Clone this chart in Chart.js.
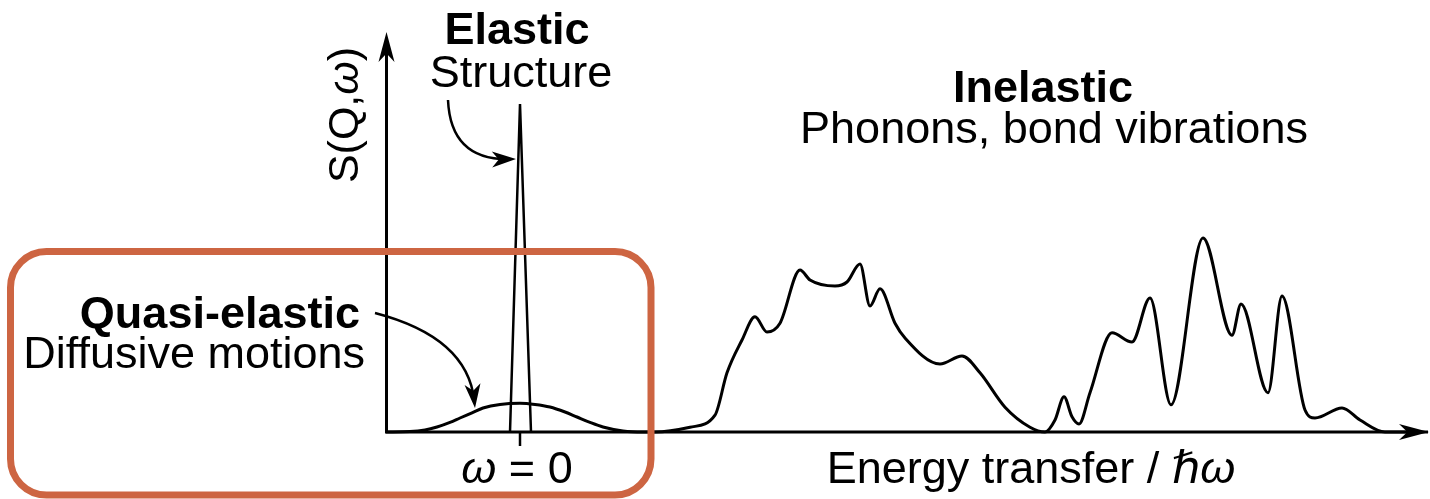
<!DOCTYPE html>
<html>
<head>
<meta charset="utf-8">
<script src="https://cdn.jsdelivr.net/npm/chart.js@4/dist/chart.umd.min.js"></script>
<style>
  html, body { margin: 0; padding: 0; background: #fff; }
</style>
</head>
<body>
<canvas id="sqw" width="1430" height="499"></canvas>
<script>
// energy transfer (arb. units, 0 = elastic line) and S(Q,w) (arb. units)
const quasiX = [-13.4, -11, -9.5, -8.3, -7, -6, -4.8, -3.7, -2, 0, 1.5, 3, 4.5, 5.7, 7, 8.3, 10.3, 12.3];
const quasiY = [0, 0.1, 0.5, 1.25, 2.4, 3.5, 4.8, 6, 6.9, 7.2, 6.9, 6.25, 5, 3.75, 2.4, 1.25, 0.25, 0];

const elasticX = [-1.0, 0, 1.1];
const elasticY = [0, 82, 0];

const inelX = [13.5, 17, 19.5, 20.7, 22.2, 23.5, 24.7, 26, 28, 29, 31.5, 32.7, 34, 35, 36, 37.5, 38.5, 42, 44.2, 46, 48.5, 51, 52.5,
               53.5, 54.4, 55.2, 55.9, 57, 59.2, 61.2, 63, 65.1, 68.3, 71.2, 72.1, 74.8, 76.2, 78.5, 79.5, 82.2, 84, 86.5, 90.8];
const inelY = [0, 1.2, 4.2, 14.8, 23, 28.8, 25, 27.2, 40.5, 38, 36.5, 37.5, 42, 31.5, 35.8, 27.2, 23.5, 17, 19, 14.8, 6.2, 1.2, 0,
               3, 8.8, 3.8, 2, 9.8, 24.8, 22.5, 33.5, 6.8, 48.5, 24.2, 32, 9.8, 34, 5.5, 3.5, 6, 3, 0, 0];

const FONT = "'Liberation Sans', Arial, 'DejaVu Sans', sans-serif";

const curve = quasiX.map((x, i) => ({ x: x, y: quasiY[i] }))
  .concat(inelX.map((x, i) => ({ x: x, y: inelY[i] })));
const peak = elasticX.map((x, i) => ({ x: x, y: elasticY[i] }));

function arrowHead(ctx, x, y, ang, len, half) {
  ctx.save();
  ctx.translate(x, y);
  ctx.rotate(ang);
  ctx.beginPath();
  ctx.moveTo(0, 0);
  ctx.lineTo(-len, -half);
  ctx.lineTo(-len * 0.72, 0);
  ctx.lineTo(-len, half);
  ctx.closePath();
  ctx.fill();
  ctx.restore();
}

function richText(ctx, parts, x, y, align) {
  let total = 0;
  parts.forEach(p => { ctx.font = p.font; total += ctx.measureText(p.text).width; });
  let cx = align === 'center' ? x - total / 2 : (align === 'right' ? x - total : x);
  ctx.textAlign = 'left';
  parts.forEach(p => {
    ctx.font = p.font;
    ctx.fillText(p.text, cx, y);
    cx += ctx.measureText(p.text).width;
  });
}

const decor = {
  id: 'decor',
  beforeDatasetsDraw(chart) {
    const { ctx, chartArea: a } = chart;
    ctx.save();
    ctx.strokeStyle = '#000';
    ctx.fillStyle = '#000';
    ctx.lineWidth = 3;
    ctx.beginPath();
    ctx.moveTo(a.left + 1.5, a.bottom);
    ctx.lineTo(a.left + 1.5, a.top + 10);
    ctx.moveTo(a.left, a.bottom);
    ctx.lineTo(a.right - 10, a.bottom);
    ctx.stroke();
    arrowHead(ctx, a.left + 1.5, a.top, -Math.PI / 2, 30, 8);
    arrowHead(ctx, a.right + 1, a.bottom, 0, 30, 8);
    ctx.restore();
  },
  afterDraw(chart) {
    const { ctx } = chart;
    const sx = chart.scales.x, sy = chart.scales.y;
    const px = v => sx.getPixelForValue(v), py = v => sy.getPixelForValue(v);
    ctx.save();
    ctx.fillStyle = '#000';
    ctx.strokeStyle = '#000';
    ctx.textBaseline = 'alphabetic';

    // tick at omega = 0
    ctx.lineWidth = 2.5;
    ctx.beginPath();
    ctx.moveTo(px(0), py(0));
    ctx.lineTo(px(0), py(-3.5));
    ctx.stroke();

    // curved pointer arrows
    const pointers = [
      [[-7.2, 83], [-7.0, 71.75], [-4.5, 68], [-0.4, 68.25]],
      [[-14.5, 29.75], [-8, 25.5], [-5, 18], [-4.5, 6]]
    ];
    ctx.lineWidth = 2.5;
    pointers.forEach(p => {
      const q = p.map(v => [px(v[0]), py(v[1])]);
      ctx.beginPath();
      ctx.moveTo(q[0][0], q[0][1]);
      ctx.bezierCurveTo(q[1][0], q[1][1], q[2][0], q[2][1], q[3][0] - (q[3][0] - q[2][0]) * 0.15, q[3][1] - (q[3][1] - q[2][1]) * 0.15);
      ctx.stroke();
      const ang = Math.atan2(q[3][1] - q[2][1], q[3][0] - q[2][0]);
      arrowHead(ctx, q[3][0], q[3][1], ang, 24, 8);
    });

    // labels
    const bold = 'bold 45px ' + FONT, reg = '45px ' + FONT, ital = 'italic 45px ' + FONT;
    ctx.textAlign = 'center';
    ctx.font = bold; ctx.fillText('Elastic', px(-0.3), py(97));
    ctx.font = reg; ctx.fillText('Structure', px(0.1), py(86.25));
    ctx.font = bold; ctx.fillText('Inelastic', px(52.3), py(82.5));
    ctx.font = reg; ctx.fillText('Phonons, bond vibrations', px(53.4), py(72.25));
    ctx.textAlign = 'right';
    ctx.font = bold; ctx.fillText('Quasi-elastic', px(-16), py(26));
    ctx.font = reg; ctx.fillText('Diffusive motions', px(-15.5), py(16));
    richText(ctx, [{ text: 'ω', font: ital }, { text: ' = 0', font: reg }], px(-0.3), py(-12.75), 'center');
    richText(ctx, [{ text: 'Energy transfer / ', font: reg }, { text: 'ℏω', font: ital }], px(51.1), py(-12.75), 'center');

    ctx.save();
    ctx.translate(px(-17.7), py(79.25));
    ctx.rotate(-Math.PI / 2);
    richText(ctx, [{ text: 'S(Q,', font: '43px ' + FONT }, { text: 'ω', font: 'italic 43px ' + FONT }, { text: ')', font: '43px ' + FONT }], 0, 15, 'center');
    ctx.restore();

    // highlight box around the quasi-elastic region
    const x0 = px(-50.95), x1 = px(13.1), y0 = py(45.1), y1 = py(-15.75), r = 36;
    ctx.strokeStyle = '#cd6542';
    ctx.lineWidth = 7;
    ctx.beginPath();
    ctx.roundRect(x0, y0, x1 - x0, y1 - y0, r);
    ctx.stroke();
    ctx.restore();
  }
};

new Chart(document.getElementById('sqw'), {
  type: 'scatter',
  data: {
    datasets: [
      {
        label: 'S(Q,w)',
        data: curve,
        showLine: true,
        borderColor: '#000',
        borderWidth: 3,
        pointRadius: 0,
        cubicInterpolationMode: 'monotone',
        clip: false
      },
      {
        label: 'Elastic',
        data: peak,
        showLine: true,
        borderColor: '#000',
        borderWidth: 2.5,
        pointRadius: 0,
        tension: 0,
        clip: false
      }
    ]
  },
  options: {
    responsive: false,
    animation: false,
    layout: { padding: { left: 385, right: 2, top: 32, bottom: 67 } },
    scales: {
      x: { type: 'linear', min: -13.5, max: 90.8, display: false },
      y: { type: 'linear', min: 0, max: 100, display: false }
    },
    plugins: { legend: { display: false }, tooltip: { enabled: false } }
  },
  plugins: [decor]
});
</script>
</body>
</html>
